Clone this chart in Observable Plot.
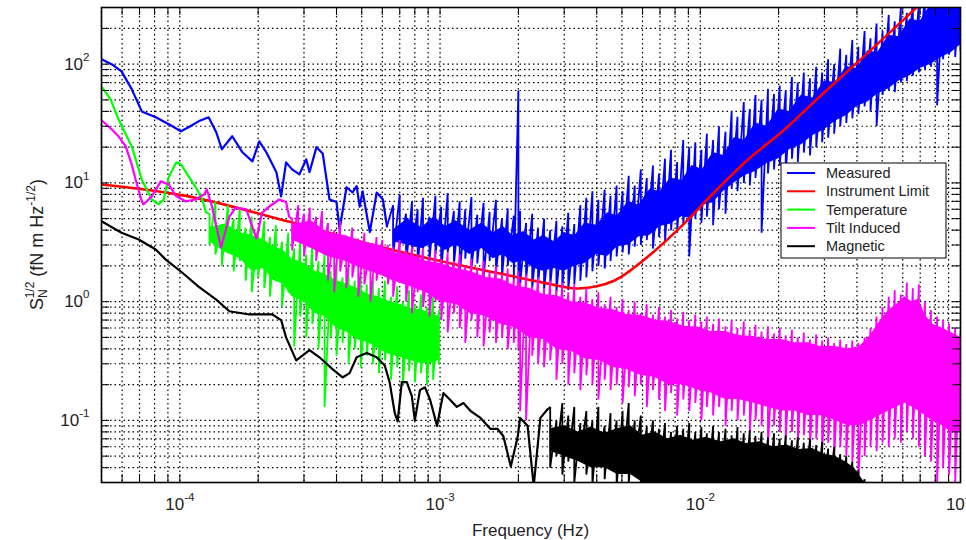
<!DOCTYPE html>
<html><head><meta charset="utf-8">
<script src="https://cdn.jsdelivr.net/npm/d3@7"></script>
<script src="https://cdn.jsdelivr.net/npm/@observablehq/plot@0.6"></script>
<style>
html,body{margin:0;padding:0;background:#fff;}
#chart{width:966px;height:540px;}
</style></head><body><div id="chart"></div>
<script>
// ---------- data (frequency in Hz, amplitude in fN m Hz^-1/2) ----------
const seriesNames = ["Measured", "Instrument Limit", "Temperature", "Tilt Induced", "Magnetic"];
const seriesColors = ["#0000ff", "#ff0000", "#00ff00", "#ff00ff", "#000000"];

// Instrument limit (smooth)
const limitFreq = [5e-5, 1.08e-4, 2.64e-4, 5.86e-4, 1e-3, 2e-3, 2.9e-3, 3.4e-3, 4.66e-3, 6.3e-3, 8.45e-3, 0.0113, 0.0153, 0.0206, 0.03, 0.045, 0.07, 0.1];
const limitVal  = [9.7, 7.7, 4.7, 2.9, 2.2, 1.6, 1.35, 1.29, 1.5, 2.4, 4.3, 8.3, 15.8, 27, 58, 130, 320, 650];

// Measured: low-frequency part
const measuredFreq = [5e-5, 5.47e-5, 5.97e-5, 6.53e-5, 7.14e-5, 8.08e-5, 9.07e-5, 1.01e-4, 1.08e-4, 1.18e-4, 1.29e-4, 1.38e-4, 1.45e-4, 1.59e-4, 1.74e-4, 1.9e-4, 2.02e-4, 2.15e-4, 2.35e-4, 2.45e-4, 2.56e-4, 2.7e-4, 2.88e-4, 3.06e-4, 3.15e-4, 3.35e-4, 3.54e-4, 3.76e-4, 4.0e-4, 4.11e-4, 4.37e-4, 4.61e-4, 4.78e-4, 4.91e-4, 5.04e-4, 5.37e-4, 5.71e-4, 6.03e-4, 6.25e-4];
const measuredVal  = [110, 100, 87, 61.6, 40, 35.7, 31.2, 27.2, 29.4, 33, 35.7, 26.7, 19.2, 24.7, 18.1, 15.2, 22.4, 18.1, 12.3, 7.7, 14.9, 13, 11.8, 15.8, 12.3, 20, 17.7, 7.25, 6.9, 4.05, 9.2, 8.3, 9.4, 6.3, 8.5, 3.85, 8.3, 7.25, 4.3];
// Measured: noisy part, spikes [mHz, high, low]
const measuredNoise = [
 [0.66,6.5,2.4],[0.70,8.0,3.0],[0.74,5.5,2.0],[0.78,7.0,2.6],[0.82,6.0,1.9],[0.86,7.5,2.8],[0.91,5.2,2.2],[0.96,7.8,2.5],
 [1.01,6.3,1.8],[1.07,8.2,2.6],[1.13,5.8,2.0],[1.19,7.0,1.7],[1.25,6.0,2.3],[1.32,7.6,1.9],[1.39,5.4,2.1],[1.47,6.8,1.6],
 [1.55,5.7,2.2],[1.64,7.2,1.8],[1.73,5.0,1.6],[1.82,6.1,2.0],[1.92,5.3,1.5],[2.00,60,1.6],[2.03,5.8,1.4],[2.14,4.6,1.5],
 [2.26,5.5,1.3],[2.38,4.2,1.4],[2.51,5.0,1.25],[2.65,4.0,1.35],[2.80,4.8,1.2],[2.95,4.3,1.3],[3.11,5.6,1.25],[3.28,4.5,1.4],
 [3.46,6.5,1.5],[3.65,7.5,1.6],[3.85,8.5,1.8],[4.06,7.2,2.0],[4.29,8.8,1.9],[4.52,7.8,2.2],[4.77,9.5,2.4],[5.03,8.5,2.6],
 [5.31,11.5,2.5],[5.60,9.5,2.9],[5.91,13,3.0],[6.23,11,3.3],[6.58,14,2.8],[6.94,12,3.5],[7.32,16,3.2],[7.72,19,4.0],
 [8.15,15,3.8],[8.60,23,4.5],[9.07,20,2.4],[9.57,22,5.0],[10.1,19,4.6],[10.6,26,5.2],[11.2,23,4.4],[11.8,30,6.0],
 [12.5,27,5.5],[13.2,40,9.0],[13.9,36,8.5],[14.7,48,10],[15.5,42,9.5],[16.3,55,11],[17.2,50,3.8],[18.2,62,12],
 [19.2,56,13],[20.2,66,14],[21.3,60,12],[22.5,78,16],[23.7,70,15],[25.0,85,18],[26.4,76,17],[27.9,95,20],
 [29.4,85,22],[31.0,110,24],[32.7,100,26],[34.5,135,30],[36.4,120,32],[38.4,160,35],[40.5,140,38],[42.8,190,44],
 [45.1,165,40],[47.6,220,30],[50.2,190,55],[53.0,260,60],[55.9,230,58],[59.0,300,70],[62.2,270,72],[65.6,350,80],
 [69.2,320,85],[73.0,400,90],[77.0,380,95],[81.3,450,45],[85.7,420,110],[90.4,500,120],[95.4,480,115],[100,500,130]
];
// Measured: solid core of the noise band [mHz, top, bottom]
const measuredCore = [
 [0.66,4.0,3.2],[0.75,5.0,3.0],[0.85,4.2,2.8],[0.95,5.2,3.1],[1.05,4.3,2.7],[1.15,4.8,3.0],[1.3,4.0,2.5],[1.45,4.6,2.8],
 [1.6,3.8,2.3],[1.75,4.3,2.5],[1.9,3.6,2.1],[2.1,3.9,2.2],[2.3,3.3,1.9],[2.5,3.6,1.8],[2.75,3.2,1.9],[3.0,3.8,1.8],
 [3.3,3.6,2.0],[3.6,4.6,2.1],[4.0,4.4,2.5],[4.4,5.6,2.4],[4.8,5.3,2.9],[5.3,7.0,3.0],[5.8,6.5,3.5],[6.4,8.8,3.6],
 [7.0,8.5,4.3],[7.7,11,4.5],[8.5,10.5,5.2],[9.3,14,5.0],[10.2,13,6.5],[11.2,18,6.8],[12.3,17,8.5],[13.5,24,10],
 [14.8,23,11.5],[16.3,32,12.5],[18,30,14.5],[20,42,16],[22,40,19],[24.5,55,21],[27,52,25],[30,72,28],[33,70,33],
 [36.5,95,37],[40,92,44],[44,130,48],[48,125,56],[53,175,62],[58,170,72],[64,240,80],[70,230,92],[77,320,100],
 [85,310,115],[92,420,125],[100,450,145]
];

// Temperature
const tempFreq = [5e-5, 5.42e-5, 5.81e-5, 6.53e-5, 7.14e-5, 7.8e-5, 8.3e-5, 8.67e-5, 9.07e-5, 9.7e-5, 1.01e-4, 1.08e-4, 1.15e-4, 1.22e-4, 1.26e-4];
const tempVal  = [65, 50.6, 34.3, 20.4, 10.7, 7.25, 6.6, 7.25, 11.2, 14.9, 14.3, 11.4, 9.2, 7.25, 5.65];
const tempNoise = [
 [0.13,5.5,3.0],[0.137,7.0,2.5],[0.145,4.5,2.0],[0.153,6.5,2.8],[0.161,5.0,1.8],[0.17,6.0,2.2],[0.179,4.2,1.5],[0.189,5.2,1.2],
 [0.2,4.0,1.6],[0.211,4.8,1.3],[0.222,3.5,1.1],[0.234,4.4,1.5],[0.247,3.2,0.9],[0.261,3.8,1.2],[0.275,2.8,0.42],[0.29,3.3,0.75],
 [0.306,2.5,0.5],[0.323,3.0,0.65],[0.341,2.2,0.4],[0.36,2.6,0.13],[0.38,1.8,0.5],[0.4,2.2,0.35],[0.422,1.6,0.45],[0.445,1.9,0.3],
 [0.47,1.5,0.4],[0.496,1.7,0.28],[0.523,1.4,0.35],[0.552,1.6,0.3],[0.582,1.3,0.25],[0.614,1.5,0.32],[0.648,1.1,0.22],[0.684,1.35,0.28],
 [0.72,1.0,0.2],[0.76,1.25,0.26],[0.8,0.95,0.21],[0.845,1.15,0.25],[0.89,0.9,0.2],[0.94,1.1,0.22],[0.99,0.85,0.3]
];
const tempCore = [
 [0.13,4.2,3.2],[0.15,4.5,2.6],[0.17,3.8,2.3],[0.19,3.6,1.8],[0.21,3.3,1.9],[0.23,2.9,1.5],[0.25,2.7,1.4],[0.27,2.3,1.1],
 [0.3,2.1,1.0],[0.33,1.8,0.8],[0.36,1.7,0.75],[0.4,1.5,0.6],[0.44,1.4,0.55],[0.48,1.3,0.48],[0.53,1.15,0.45],[0.58,1.1,0.4],
 [0.64,1.0,0.36],[0.7,0.95,0.34],[0.77,0.88,0.32],[0.85,0.85,0.3],[0.92,0.8,0.3],[0.99,0.75,0.32]
];

// Tilt induced
const tiltFreq = [5e-5, 5.47e-5, 5.81e-5, 6.19e-5, 6.53e-5, 6.76e-5, 7.14e-5, 7.26e-5, 7.8e-5, 8.45e-5, 9.07e-5, 9.65e-5, 1.05e-4, 1.15e-4, 1.24e-4, 1.27e-4, 1.33e-4, 1.44e-4, 1.55e-4, 1.64e-4, 1.8e-4, 1.97e-4, 2.07e-4, 2.2e-4, 2.41e-4, 2.56e-4, 2.63e-4];
const tiltVal  = [33.7, 28.3, 24.7, 20.4, 14.3, 10.7, 7.0, 6.6, 7.7, 10.3, 9.7, 7.8, 7.0, 7.25, 8.0, 8.8, 6.3, 2.86, 5.2, 6.2, 6.0, 3.4, 5.6, 6.3, 7.25, 6.9, 5.2];
const tiltNoise = [
 [0.27,5.0,2.7],[0.285,6.5,3.2],[0.30,5.5,2.4],[0.316,6.2,3.0],[0.334,5.2,2.2],[0.352,5.8,2.6],[0.371,4.6,1.5],[0.392,4.0,1.2],
 [0.413,4.8,1.8],[0.436,3.6,1.3],[0.46,4.2,1.6],[0.485,3.4,1.1],[0.512,3.8,1.4],[0.54,3.0,1.0],[0.57,3.5,1.5],[0.60,3.3,1.9],
 [0.63,3.0,1.4],[0.66,2.9,1.1],[0.70,3.3,2.0],[0.74,2.7,1.0],[0.78,2.9,0.8],[0.82,2.5,1.2],[0.86,2.8,0.9],[0.91,2.4,0.75],
 [0.96,2.7,1.0],[1.01,2.3,0.7],[1.07,2.6,0.55],[1.13,2.2,0.8],[1.19,2.5,0.6],[1.25,2.0,0.45],[1.32,2.3,0.7],[1.39,1.9,0.5],
 [1.47,2.2,0.42],[1.55,1.8,0.55],[1.64,2.0,0.45],[1.73,1.7,0.5],[1.82,1.9,0.4],[1.92,1.55,0.45],[2.00,1.8,0.4],[2.03,1.45,0.12],
 [2.14,1.7,0.1],[2.26,1.35,0.35],[2.38,1.6,0.3],[2.51,1.3,0.28],[2.65,1.5,0.32],[2.80,1.25,0.22],[2.95,1.45,0.3],[3.11,1.2,0.2],
 [3.28,1.4,0.25],[3.46,1.1,0.18],[3.65,1.3,0.24],[3.85,1.05,0.2],[4.06,1.2,0.15],[4.29,0.95,0.22],[4.52,1.1,0.18],[4.77,0.9,0.2],
 [5.03,1.05,0.14],[5.31,0.85,0.19],[5.60,1.0,0.16],[5.91,0.8,0.2],[6.23,0.95,0.13],[6.58,0.78,0.18],[6.94,0.9,0.15],[7.32,0.75,0.12],
 [7.72,0.85,0.17],[8.15,0.72,0.11],[8.60,0.82,0.15],[9.07,0.7,0.12],[9.57,0.78,0.14],[10.1,0.68,0.1],[10.6,0.75,0.13],[11.2,0.65,0.11],
 [11.8,0.72,0.13],[12.5,0.62,0.09],[13.2,0.7,0.12],[13.9,0.6,0.1],[14.7,0.68,0.11],[15.5,0.58,0.08],[16.3,0.64,0.1],[17.2,0.56,0.09],
 [18.2,0.62,0.06],[19.2,0.54,0.09],[20.2,0.6,0.08],[21.3,0.52,0.07],[22.5,0.58,0.08],[23.7,0.5,0.065],[25.0,0.55,0.075],[26.4,0.48,0.06],
 [27.9,0.53,0.07],[29.4,0.47,0.055],[31.0,0.5,0.065],[32.7,0.45,0.05],[34.5,0.48,0.06],[36.4,0.44,0.05],[38.4,0.47,0.045],[40.5,0.45,0.03],
 [42.8,0.5,0.05],[45.1,0.6,0.06],[47.6,0.75,0.055],[50.2,0.9,0.065],[53.0,1.1,0.06],[55.9,1.25,0.07],[59.0,1.15,0.065],[62.2,1.45,0.08],
 [65.6,1.3,0.07],[69.2,1.4,0.06],[73.0,1.0,0.05],[77.0,0.85,0.045],[81.3,0.75,0.03],[85.7,0.7,0.04],[90.4,0.65,0.035],[95.4,0.6,0.03],[100,0.55,0.04]
];
const tiltCore = [
 [0.27,4.4,3.3],[0.32,4.8,2.8],[0.37,3.8,2.4],[0.43,3.6,2.2],[0.5,3.2,1.9],[0.58,3.0,1.7],[0.66,2.6,1.5],[0.76,2.5,1.35],
 [0.88,2.2,1.2],[1.0,2.1,1.0],[1.15,1.9,0.95],[1.3,1.8,0.8],[1.5,1.6,0.75],[1.7,1.55,0.65],[1.95,1.35,0.6],[2.2,1.3,0.5],
 [2.5,1.15,0.48],[2.8,1.12,0.4],[3.2,1.0,0.38],[3.6,0.98,0.33],[4.1,0.88,0.32],[4.6,0.86,0.28],[5.2,0.78,0.27],[5.9,0.77,0.24],
 [6.7,0.7,0.23],[7.6,0.68,0.2],[8.6,0.62,0.2],[9.8,0.61,0.18],[11,0.56,0.17],[12.5,0.56,0.15],[14,0.52,0.15],[16,0.51,0.14],
 [18,0.48,0.13],[20.5,0.48,0.12],[23,0.45,0.12],[26,0.45,0.11],[29,0.42,0.11],[33,0.42,0.1],[37,0.4,0.09],[41,0.42,0.09],
 [45,0.52,0.1],[49,0.68,0.11],[53,0.85,0.12],[57,0.95,0.13],[61,1.1,0.14],[65,1.0,0.13],[69,1.05,0.12],[73,0.78,0.11],
 [78,0.65,0.1],[85,0.6,0.09],[92,0.55,0.08],[100,0.5,0.08]
];

// Magnetic
const magFreq = [5e-5, 5.97e-5, 6.95e-5, 8.08e-5, 8.83e-5, 1.02e-4, 1.18e-4, 1.38e-4, 1.55e-4, 1.85e-4, 2.27e-4, 2.45e-4, 2.56e-4, 2.8e-4, 3.15e-4, 3.44e-4, 3.86e-4, 4.22e-4, 4.49e-4, 4.78e-4, 5.23e-4, 5.71e-4, 6.13e-4, 6.4e-4, 6.7e-4, 6.87e-4, 7.13e-4, 7.45e-4, 7.79e-4, 8.0e-4, 8.37e-4, 8.75e-4, 9.15e-4, 9.74e-4, 1e-3, 1.03e-3, 1.09e-3, 1.16e-3, 1.23e-3, 1.31e-3, 1.43e-3, 1.56e-3, 1.66e-3, 1.75e-3, 1.87e-3, 1.99e-3, 2.03e-3, 2.17e-3, 2.29e-3, 2.43e-3, 2.58e-3];
const magVal  = [4.75, 3.8, 3.34, 2.75, 2.26, 1.76, 1.34, 1.04, 0.83, 0.78, 0.78, 0.7, 0.5, 0.32, 0.39, 0.34, 0.27, 0.23, 0.25, 0.34, 0.37, 0.34, 0.29, 0.21, 0.115, 0.098, 0.21, 0.21, 0.16, 0.1, 0.18, 0.19, 0.15, 0.09, 0.123, 0.17, 0.15, 0.13, 0.14, 0.12, 0.105, 0.085, 0.085, 0.074, 0.041, 0.074, 0.105, 0.09, 0.028, 0.105, 0.123];
const magNoise = [
 [2.65,0.13,0.04],[2.80,0.1,0.05],[2.95,0.14,0.035],[3.11,0.11,0.045],[3.28,0.13,0.03],[3.46,0.095,0.05],[3.65,0.12,0.035],[3.85,0.1,0.028],
 [4.06,0.13,0.045],[4.29,0.09,0.032],[4.52,0.115,0.04],[4.77,0.1,0.028],[5.03,0.12,0.038],[5.31,0.14,0.03],[5.60,0.1,0.042],[5.91,0.11,0.028],
 [6.23,0.09,0.035],[6.58,0.1,0.025],[6.94,0.085,0.03],[7.32,0.095,0.022],[7.72,0.08,0.028],[8.15,0.09,0.02],[8.60,0.085,0.026],[9.07,0.095,0.02],
 [9.57,0.08,0.024],[10.1,0.088,0.02],[10.6,0.078,0.022],[11.2,0.09,0.02],[11.8,0.08,0.02],[12.5,0.085,0.02],[13.2,0.075,0.02],[13.9,0.088,0.02],
 [14.7,0.078,0.02],[15.5,0.083,0.02],[16.3,0.074,0.02],[17.2,0.08,0.02],[18.2,0.072,0.02],[19.2,0.078,0.02],[20.2,0.07,0.02],[21.3,0.075,0.02],
 [22.5,0.068,0.02],[23.7,0.072,0.02],[25.0,0.065,0.02],[26.4,0.07,0.02],[27.9,0.062,0.02],[29.4,0.066,0.02],[31.0,0.058,0.02],[32.7,0.06,0.02],
 [34.5,0.052,0.02],[36.4,0.05,0.02],[38.4,0.045,0.02],[40.5,0.038,0.02],[42.8,0.032,0.02]
];
const magCore = [
 [2.65,0.085,0.055],[3.0,0.09,0.05],[3.4,0.08,0.045],[3.8,0.088,0.04],[4.3,0.078,0.04],[4.8,0.085,0.035],[5.4,0.09,0.035],
 [6.0,0.075,0.03],[6.7,0.08,0.028],[7.5,0.07,0.025],[8.4,0.075,0.02],[9.4,0.068,0.02],[10.5,0.072,0.02],[12,0.066,0.02],
 [13.5,0.07,0.02],[15,0.064,0.02],[17,0.066,0.02],[19,0.06,0.02],[21.5,0.062,0.02],[24,0.057,0.02],[27,0.058,0.02],
 [30,0.052,0.02],[33,0.05,0.02],[36,0.045,0.02],[39,0.04,0.02],[42.8,0.03,0.02]
];

// axes
const xMajor = [1e-4, 1e-3, 1e-2, 1e-1];
const xMajorExp = ["-4", "-3", "-2", "-1"];
const yMajor = [0.1, 1, 10, 100];
const yMajorExp = ["-1", "0", "1", "2"];
const decadeMultiples = [1, 2, 3, 4, 5, 6, 7, 8, 9];
const xDecades = [1e-5, 1e-4, 1e-3, 1e-2, 1e-1];
const yDecades = [0.01, 0.1, 1, 10, 100];
const xDomain = [5e-5, 0.1];
const yDomain = [0.03, 300];
const xLabel = "Frequency (Hz)";

// ---------- build tables ----------
const xTicks = xDecades.flatMap(d => decadeMultiples.map(m => m * d)).filter(v => v >= xDomain[0] * 0.999 && v <= xDomain[1] * 1.001);
const yTicks = yDecades.flatMap(d => decadeMultiples.map(m => m * d)).filter(v => v >= yDomain[0] * 0.999 && v <= yDomain[1] * 1.001);

const smoothRows = (freq, val) => freq.map((f, i) => ({f, v: val[i]}));
function spikeRows(freq, val, noise) {
  const rows = [{f: freq[freq.length - 1], v: val[val.length - 1]}];
  for (const [mhz, hi, lo] of noise) rows.push({f: mhz / 1000, v: hi}, {f: mhz / 1000, v: lo});
  return rows;
}
const bandRows = core => core.map(([mhz, hi, lo]) => ({f: mhz / 1000, hi, lo}));

const W = 966, H = 540;
const M = {top: 7, right: 6, bottom: 58, left: 101};
const innerH = H - M.top - M.bottom;
const innerW = W - M.left - M.right;
const tickLen = 8;

function noisySeries(freq, val, noise, core, color) {
  return [
    Plot.areaY(bandRows(core), {x: "f", y1: "lo", y2: "hi", fill: color, clip: true}),
    Plot.line(spikeRows(freq, val, noise), {x: "f", y: "v", stroke: color, strokeWidth: 1.8, strokeLinejoin: "miter", clip: true}),
    Plot.line(smoothRows(freq, val), {x: "f", y: "v", stroke: color, strokeWidth: 2.2, clip: true})
  ];
}

const gridStyle = {stroke: "#000", strokeOpacity: 1, strokeWidth: 1.2, strokeDasharray: "1.5,3"};

const plot = Plot.plot({
  width: W, height: H,
  marginTop: M.top, marginRight: M.right, marginBottom: M.bottom, marginLeft: M.left,
  style: {fontFamily: "'Liberation Sans', Arial, sans-serif", fontSize: "17px", color: "#222", background: "white", overflow: "hidden"},
  x: {type: "log", domain: xDomain, label: null},
  y: {type: "log", domain: yDomain, label: null},
  marks: [
    Plot.gridX(xTicks, gridStyle),
    Plot.gridY(yTicks, gridStyle),
    ...noisySeries(measuredFreq, measuredVal, measuredNoise, measuredCore, seriesColors[0]),
    Plot.line(smoothRows(limitFreq, limitVal), {x: "f", y: "v", stroke: seriesColors[1], strokeWidth: 2.6, curve: "catmull-rom", clip: true}),
    ...noisySeries(tempFreq, tempVal, tempNoise, tempCore, seriesColors[2]),
    ...noisySeries(tiltFreq, tiltVal, tiltNoise, tiltCore, seriesColors[3]),
    ...noisySeries(magFreq, magVal, magNoise, magCore, seriesColors[4]),
    Plot.tickX(xTicks, {x: d => d, insetTop: innerH - tickLen, stroke: "#000"}),
    Plot.tickX(xTicks, {x: d => d, insetBottom: innerH - tickLen, stroke: "#000"}),
    Plot.tickY(yTicks, {y: d => d, insetRight: innerW - tickLen, stroke: "#000"}),
    Plot.tickY(yTicks, {y: d => d, insetLeft: innerW - tickLen, stroke: "#000"}),
    Plot.frame({stroke: "#000", strokeWidth: 1.6}),
    Plot.axisX(xMajor, {tickSize: 0, tickPadding: 15, label: null, tickFormat: d => "10^" + xMajorExp[xMajor.indexOf(d)]}),
    Plot.axisY(yMajor, {tickSize: 0, tickPadding: 12, label: null, tickFormat: d => "10^" + yMajorExp[yMajor.indexOf(d)]})
  ]
});

document.getElementById("chart").appendChild(plot);
const svg = d3.select(plot);

// superscript tick labels
svg.selectAll("text").each(function() {
  const t = this.textContent;
  if (!t.includes("^")) return;
  const [base, exp] = t.split("^");
  const sel = d3.select(this);
  sel.text(null);
  sel.append("tspan").text(base);
  sel.append("tspan").attr("dy", "-0.75em").attr("font-size", "68%").text(exp);
});

// x label
svg.append("text")
  .attr("x", (M.left + W - M.right) / 2).attr("y", 536)
  .attr("text-anchor", "middle").attr("font-size", 17).attr("fill", "#222")
  .text(xLabel);

// y label with scripts
const yl = svg.append("text")
  .attr("transform", `translate(43,${(M.top + H - M.bottom) / 2}) rotate(-90)`)
  .attr("text-anchor", "middle").attr("font-size", 18).attr("fill", "#222");
yl.append("tspan").text("S");
yl.append("tspan").attr("font-size", 12).attr("dy", 4).text("N");
yl.append("tspan").attr("font-size", 12).attr("dx", -9).attr("dy", -13).text("1/2");
yl.append("tspan").attr("dy", 9).text(" (fN m Hz");
yl.append("tspan").attr("font-size", 12).attr("dy", -8).text("-1/2");
yl.append("tspan").attr("dy", 8).text(")");

// legend
const lg = svg.append("g");
lg.append("rect").attr("x", 781).attr("y", 163).attr("width", 165).attr("height", 95)
  .attr("fill", "#fff").attr("stroke", "#000").attr("stroke-width", 1);
seriesNames.forEach((name, i) => {
  const y = 173 + i * 18.3;
  lg.append("line").attr("x1", 787).attr("x2", 815).attr("y1", y).attr("y2", y)
    .attr("stroke", seriesColors[i]).attr("stroke-width", 2);
  lg.append("text").attr("x", 826).attr("y", y).attr("dy", "0.35em").attr("text-anchor", "start")
    .attr("font-size", 14.5).attr("fill", "#222").text(name);
});
</script></body></html>
